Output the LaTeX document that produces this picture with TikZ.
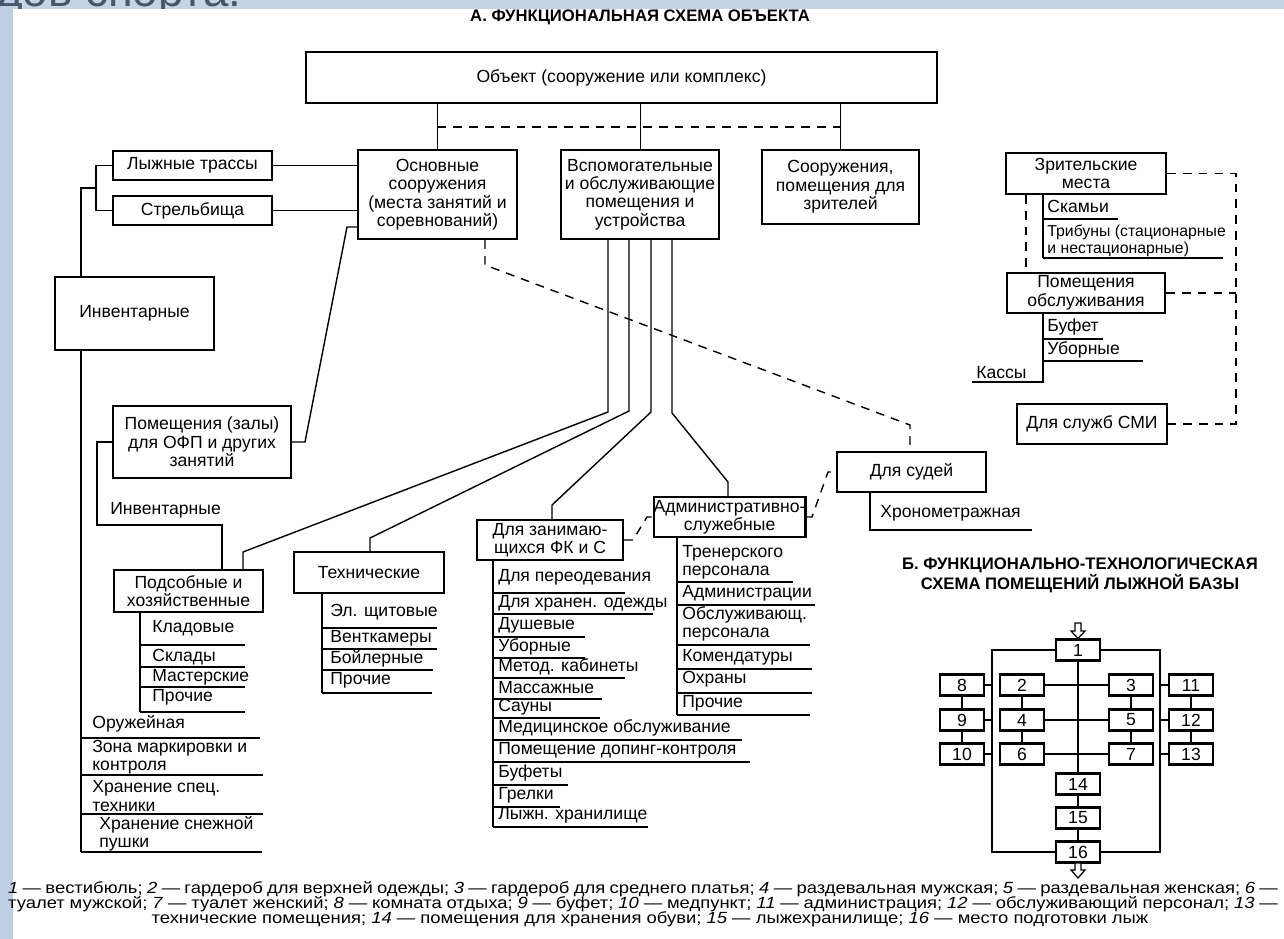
\documentclass[tikz,border=0pt]{standalone}
\usepackage{fontspec}
\setmainfont{Liberation Sans}
\usetikzlibrary{calc}

\definecolor{slidebg}{RGB}{196,211,229}
\definecolor{slidestrip}{RGB}{190,207,228}
\definecolor{slidetext}{RGB}{72,86,106}

\newcommand{\boxfont}{\fontsize{10}{10.5}\selectfont}
\newcommand{\numfont}{\fontsize{10}{11}\selectfont}
\newcommand{\capfont}{\fontsize{9.2}{10}\selectfont}
\newcommand{\headfont}{\bfseries\fontsize{9.5}{9.8}\selectfont}

\tikzset{
  box/.style={draw, line width=1.2pt, align=center, inner sep=0pt, font=\boxfont},
  sz/.style 2 args={minimum width=#1*0.02cm, minimum height=#2*0.02cm},
  ln/.style={line width=0.8pt},
  dsh/.style={line width=0.8pt, dash pattern=on 5pt off 4pt},
  item/.style={anchor=west, inner sep=0pt, align=left, font=\boxfont},
  room/.style={box, sz={44}{21}, font=\numfont},
  blockarrow/.style={line width=0.7pt, fill=white},
}

\begin{document}
\begin{tikzpicture}[x=0.02cm, y=-0.02cm]
    \useasboundingbox (0,0) rectangle (1284,939);

    % slide background
    \fill[slidebg] (0,0) rectangle (1284,9);
    \fill[slidestrip] (0,0) rectangle (13,939);
    \begin{scope}
      \clip (0,0) rectangle (1284,9);
      \node[anchor=base west, inner sep=0pt, text=slidetext, font=\fontsize{26}{26}\selectfont] (slidetitle) at (-4,7) {дов спорта.};
    \end{scope}

    % titles
    \node[font=\headfont] (titleA) at (640,17.5) {А. ФУНКЦИОНАЛЬНАЯ СХЕМА ОБЪЕКТА};
    \node[font=\headfont, align=center] (titleB) at (1080,575) {Б. ФУНКЦИОНАЛЬНО-ТЕХНОЛОГИЧЕСКАЯ\\СХЕМА ПОМЕЩЕНИЙ ЛЫЖНОЙ БАЗЫ};

    % main boxes
    \node[box, sz={631}{51}] (obj) at (621.5,77.5) {Объект (сооружение или комплекс)};
    \node[box, sz={159}{89}] (osn) at (437.5,194.5) {Основные\\сооружения\\(места занятий и\\соревнований)};
    \node[box, sz={158}{89}] (vsp) at (640,194.5) {Вспомогательные\\и обслуживающие\\помещения и\\устройства};
    \node[box, sz={157}{74}] (zrit) at (840.5,187) {Сооружения,\\помещения для\\зрителей};

    \node[box, sz={159}{29}] (trassy) at (192.5,165.5) {Лыжные трассы};
    \node[box, sz={159}{29}] (strel) at (192.5,210.5) {Стрельбища};
    \node[box, sz={159}{73}] (invent) at (134.5,313.5) {Инвентарные};
    \node[box, sz={178}{72}] (ofp) at (202,442) {Помещения (залы)\\для ОФП и других\\занятий};
    \node[box, sz={149}{42}] (podsob) at (188.5,591) {Подсобные и\\хозяйственные};
    \node[box, sz={150}{41}] (tehn) at (369,572.5) {Технические};
    \node[box, sz={146}{40}] (zanim) at (550,540) {Для занимаю-\\щихся ФК и С};
    \node[box, sz={147}{40}] (admin) at (729.5,517) {Административно-\\служебные};
    \node[box, sz={149}{40}] (sudi) at (911.5,472) {Для судей};

    \node[box, sz={160}{41}] (zrm) at (1086,173.5) {Зрительские\\места};
    \node[box, sz={158}{40}] (pobs) at (1086,293) {Помещения\\обслуживания};
    \node[box, sz={150}{40}] (smi) at (1092,424) {Для служб СМИ};

    % links from the object
    \coordinate (dline) at (0,127);
    \draw[ln] (obj.south -| osn) -- (osn.north);
    \draw[line width=0.5pt] (obj.south -| vsp) -- (vsp.north);
    \draw[ln] (obj.south -| zrit) -- (zrit.north);
    \draw[dsh] (osn |- dline) -- (zrit |- dline);

    % left branch
    \draw[ln] (trassy.east) -- (trassy.east -| osn.west);
    \draw[ln] (strel.east) -- (strel.east -| osn.west);
    \draw[ln] (trassy.west) -- ++(-16,0) |- (strel.west);
    \draw[ln] (97,188) -- (81,188) -- (invent.north -| 81,0);
    \draw[ln] (invent.south -| 81,0) -- (81,852);
    \draw[ln] (osn.west |- 0,227) -- (347,227) -- (305,442) -- (ofp.east);
    \draw[ln] (ofp.west) -- (97,442) -- (97,525) -- (222,525) -- (podsob.north -| 222,0);
    \node[item] (inv2) at (110,510) {Инвентарные};

    % branches of the auxiliary rooms
    \draw[ln] (vsp.south -| 608,0) -- (608,412) -- (243,552) -- (podsob.north -| 243,0);
    \draw[ln] (vsp.south -| 629,0) -- (629,411) -- (370,538) -- (tehn.north -| 370,0);
    \draw[ln] (vsp.south -| 651,0) -- (651,412) -- (552,505) -- (zanim.north -| 552,0);
    \draw[ln] (vsp.south -| 672,0) -- (672,413) -- (728,482) -- (admin.north -| 728,0);

    % dashed links
    \draw[dsh] (osn.south -| 485,0) -- (485,265) -- (910,425) -- (sudi.north -| 910,0);
    \draw[dsh] (zanim.east) -- (633,540) -- (647,517) -- (admin.west);
    \draw[dsh] (admin.east) -- (812,517) -- (828,472) -- (sudi.west);

    % judges
    \draw[ln] (sudi.south -| 870,0) -- (870,530) -- (1032,530);
    \node[item] (chrono) at (880,513) {Хронометражная};

    % lists
    \draw[ln] (zanim.south -| 493,0) -- (493,827);
    \foreach \ty/\uy/\ue/\txt [count=\i] in {577/593/625/{Для переодевания}, 603/614/653/{Для хранен. одежды},
        625/637/585/{Душевые}, 647/658/585/{Уборные}, 667/678/625/{Метод. кабинеты},
        688/699/602/{Массажные}, 707/718/600/{Сауны}, 728/740/742/{Медицинское обслуживание},
        750/762/750/{Помещение допинг-контроля}, 773/785/568/{Буфеты}, 795/807/560/{Грелки},
        815/827/648/{Лыжн. хранилище}}
    {
      \node[item] (zl\i) at (498,\ty) {\txt};
      \draw[ln] (493,\uy) -- (\ue,\uy);
    }

    \draw[ln] (admin.south -| 677,0) -- (677,715);
    \foreach \ty/\uy/\ue/\txt [count=\i] in {562/582/793/{Тренерского\\персонала}, 593/605/815/{Администрации},
        624/645/810/{Обслуживающ.\\персонала}, 657/669/812/{Комендатуры}, 679/693/812/{Охраны},
        703/715/810/{Прочие}}
    {
      \node[item] (al\i) at (682,\ty) {\txt};
      \draw[ln] (677,\uy) -- (\ue,\uy);
    }

    \draw[ln] (tehn.south -| 322,0) -- (322,693);
    \foreach \ty/\uy/\ue/\txt [count=\i] in {612/628/437/{Эл. щитовые}, 638/649/437/{Венткамеры},
        659/670/433/{Бойлерные}, 680/693/432/{Прочие}}
    {
      \node[item] (tl\i) at (330,\ty) {\txt};
      \draw[ln] (322,\uy) -- (\ue,\uy);
    }

    \draw[ln] (podsob.south -| 140,0) -- (140,712);
    \foreach \ty/\uy/\ue/\txt [count=\i] in {628/645/245/{Кладовые}, 657/667/245/{Склады},
        677/687/245/{Мастерские}, 697/712/245/{Прочие}}
    {
      \node[item] (pl\i) at (152,\ty) {\txt};
      \draw[ln] (140,\uy) -- (\ue,\uy);
    }

    \foreach \ty/\uy/\ue/\txt [count=\i] in {724/738/260/{Оружейная}, 757/775/263/{Зона маркировки и\\контроля},
        796/814/263/{Хранение спец.\\техники}, 834/852/262/{\hspace{4pt}Хранение снежной\\\hspace{4pt}пушки}}
    {
      \node[item] (il\i) at (92,\ty) {\txt};
      \draw[ln] (81,\uy) -- (\ue,\uy);
    }

    % spectators
    \draw[dsh] (zrm.south -| 1026,0) -- (pobs.north -| 1026,0);
    \draw[dsh] (zrm.east) -- (1236,173.5) -- (1236,424) -- (smi.east);
    \draw[dsh] (pobs.east) -- (1236,293);
    \draw[ln] (zrm.south -| 1043,0) -- (1043,258);
    \node[item] (sk) at (1047,206) {Скамьи};
    \draw[ln] (1043,219) -- (1118,219);
    \node[item, font=\fontsize{9}{9.5}\selectfont] (trib) at (1047,241) {Трибуны (стационарные\\и нестационарные)};
    \draw[ln] (1043,258) -- (1223,258);
    \draw[ln] (pobs.south -| 1043,0) -- (1043,382) -- (972,382);
    \node[item] (buf) at (1047,327) {Буфет};
    \draw[ln] (1043,339) -- (1103,339);
    \node[item] (ub) at (1047,350) {Уборные};
    \draw[ln] (1043,361) -- (1143,361);
    \node[item] (kas) at (976,373) {Кассы};

    % scheme B
    \coordinate (fl) at (992,0);
    \coordinate (fr) at (1160,0);
    \node[room] (r1) at (1078,650) {1};
    \foreach \n/\x/\y in {2/1022/685, 3/1131/685, 4/1022/720, 5/1131/720, 6/1022/754, 7/1131/754,
        8/962/685, 9/962/720, 10/962/754, 11/1191/685, 12/1191/720, 13/1191/754,
        14/1078/784, 15/1078/818, 16/1078/852}
      \node[room] (r\n) at (\x,\y) {\n};
    \draw[ln] (r1.west) -| (fl |- r16.west) -- (r16.west);
    \draw[ln] (r1.east) -| (fr |- r16.east) -- (r16.east);
    \draw[ln] (r1.south) -- (r14.north);
    \draw[ln] (r14) -- (r15) -- (r16);
    \foreach \a/\b in {2/3, 4/5, 6/7}
      \draw[ln] (r\a.east) -- (r\b.west);
    \foreach \a/\b in {2/4, 4/6, 3/5, 5/7, 8/9, 9/10, 11/12, 12/13}
      \draw[ln] (r\a) -- (r\b);
    \foreach \a in {8, 9, 10}
      \draw[ln] (r\a.east) -- (r\a.east -| fl);
    \foreach \a in {11, 12, 13}
      \draw[ln] (r\a.west) -- (r\a.west -| fr);
    \draw[blockarrow] (1075,623) -- (1081,623) -- (1081,631) -- (1085,631) -- (r1.north) -- (1071,631) -- (1075,631) -- cycle;
    \draw[blockarrow] (1075,863) -- (1081,863) -- (1081,870) -- (1085,870) -- (1078,878) -- (1071,870) -- (1075,870) -- cycle;

    % caption
    \node[font=\capfont, inner sep=0pt] (cap1) at (643,889) {\scalebox{1.14}[1]{\makebox[22.28cm][s]{\textit{1} — вестибюль; \textit{2} — гардероб для верхней одежды; \textit{3} — гардероб для среднего платья; \textit{4} — раздевальная мужская; \textit{5} — раздевальная женская; \textit{6} —}}};
    \node[font=\capfont, inner sep=0pt] (cap2) at (643,904) {\scalebox{1.14}[1]{\makebox[22.28cm][s]{туалет мужской; \textit{7} — туалет женский; \textit{8} — комната отдыха; \textit{9} — буфет; \textit{10} — медпункт; \textit{11} — администрация; \textit{12} — обслуживающий персонал; \textit{13} —}}};
    \node[font=\capfont, inner sep=0pt] (cap3) at (650,919) {\scalebox{1.14}[1]{технические помещения; \textit{14} — помещения для хранения обуви; \textit{15} — лыжехранилище; \textit{16} — место подготовки лыж}};
\end{tikzpicture}
\end{document}
